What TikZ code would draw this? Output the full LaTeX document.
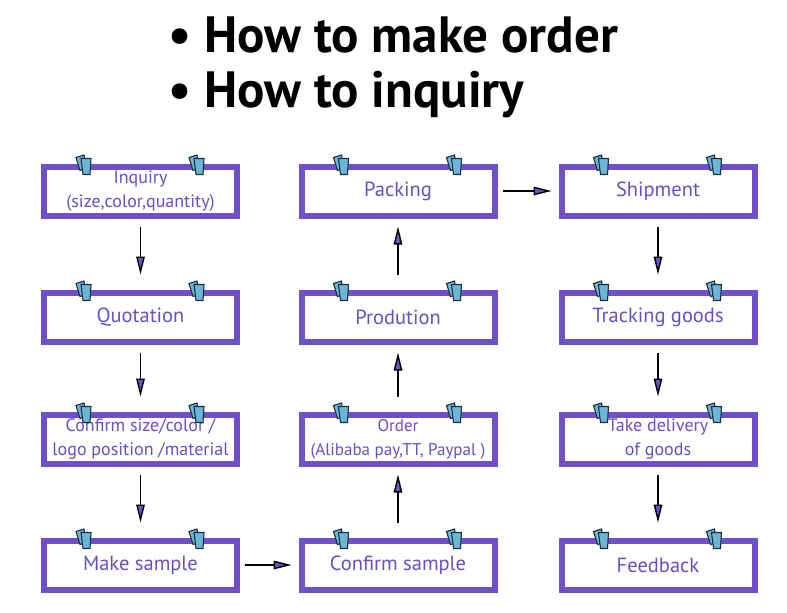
\documentclass[tikz,border=0pt]{standalone}
\usepackage{fontspec}
\setmainfont{PT Sans}
\usetikzlibrary{arrows.meta}
\definecolor{boxpurple}{HTML}{7050C8}
\definecolor{txtpurple}{HTML}{6A4FC0}
\definecolor{clipblue}{HTML}{6BB6D6}
\definecolor{clipdark}{HTML}{1E2E3A}
\newcommand{\twolines}[2]{\raisebox{-2.5pt}{\parbox{190pt}{\centering #1\\#2}}}
\tikzset{
  stage/.style={draw=boxpurple, line width=6pt, fill=white, minimum width=193pt, minimum height=49pt,
    text=txtpurple, align=center, inner sep=0pt, font=\fontsize{20.5}{24}\selectfont},
  twoline/.style={font=\fontsize{18}{24}\selectfont},
  titletext/.style={font=\bfseries\fontsize{51}{56}\selectfont, inner sep=0pt},
  flow/.style={-{Triangle[length=18pt,width=8.5pt,fill=boxpurple]}, line width=1.4pt, black},
  clipper/.pic={
    \draw[fill=clipblue, draw=clipdark, line width=1.1pt] (-10,-9) -- (-2,-11.5) -- (0,2) -- (-6,4) -- cycle;
    \draw[fill=clipblue, draw=clipdark, line width=1.1pt] (-5,-8) -- (5,-8) -- (4,8) -- (-3,8) -- cycle;
  }
}
\begin{document}
\begin{tikzpicture}[x=1pt,y=-1pt]
\useasboundingbox (0,0) rectangle (787,613);
\fill[white] (0,0) rectangle (787,613);
% title
\node[anchor=base, titletext] (b1) at (180,52) {\textbullet};
\node[anchor=base west, titletext] (t1) at (204,52) {How to make order};
\node[anchor=base, titletext] (b2) at (180,107) {\textbullet};
\node[anchor=base west, titletext] (t2) at (204,107) {How to inquiry};
% column 1
\node[stage, twoline] (inq) at (140.5,191) {\twolines{Inquiry}{(size,color,quantity)}};
\node[stage] (quo) at (140.5,317) {\raisebox{-2pt}{Quotation}};
\node[stage, twoline] (conf) at (140.5,439) {\twolines{Confirm size/color /}{logo position /material}};
\node[stage] (mks) at (140.5,565) {\raisebox{-2pt}{Make sample}};
% column 2
\node[stage] (cfs) at (398,565) {\raisebox{-2pt}{Confirm sample}};
\node[stage, font=\fontsize{17}{24}\selectfont] (ord) at (398,439) {\twolines{Order}{(Alibaba pay,TT, Paypal )}};
\node[stage] (prod) at (398,317) {\raisebox{-2pt}{Prodution}};
\node[stage] (pack) at (398,191) {\raisebox{-2pt}{Packing}};
% column 3
\node[stage] (ship) at (658,191) {\raisebox{-1pt}{Shipment}};
\node[stage] (track) at (658,317) {Tracking goods};
\node[stage, twoline] (take) at (658,439) {\twolines{Take delivery}{of goods}};
\node[stage] (fb) at (658,565) {\raisebox{-2pt}{Feedback}};
% clips
\foreach \n in {inq,quo,conf,mks,cfs,ord,prod,pack,ship,track,take,fb}{
  \path (\n.north west) ++(45,3) pic {clipper};
  \path (\n.north west) ++(158,3) pic {clipper};
}
% arrows
\draw[flow, shorten <=8pt, shorten >=15pt] (inq) -- (quo);
\draw[flow, shorten <=8pt, shorten >=15pt] (quo) -- (conf);
\draw[flow, shorten <=8pt, shorten >=15pt] (conf) -- (mks);
\draw[flow, shorten <=5pt, shorten >=7pt] (mks) -- (cfs);
\draw[flow, shorten <=15pt, shorten >=8pt] (cfs) -- (ord);
\draw[flow, shorten <=15pt, shorten >=8pt] (ord) -- (prod);
\draw[flow, shorten <=15pt, shorten >=8pt] (prod) -- (pack);
\draw[flow, shorten <=5pt, shorten >=7pt] (pack) -- (ship);
\draw[flow, shorten <=8pt, shorten >=15pt] (ship) -- (track);
\draw[flow, shorten <=8pt, shorten >=15pt] (track) -- (take);
\draw[flow, shorten <=8pt, shorten >=15pt] (take) -- (fb);
\end{tikzpicture}
\end{document}
